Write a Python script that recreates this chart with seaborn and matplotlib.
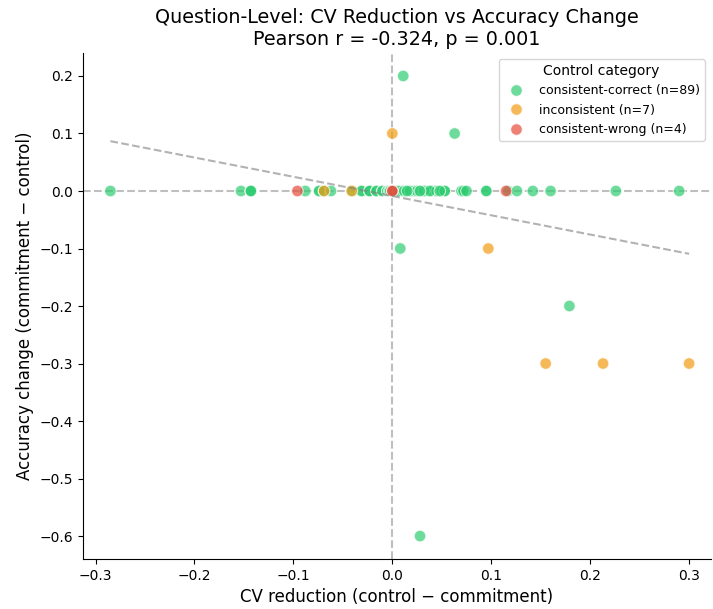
import numpy as np
import pandas as pd
import matplotlib
matplotlib.use("Agg")
import matplotlib.pyplot as plt
import seaborn as sns

# consistent-correct (n=89)
cc_x = [-0.285, -0.153, -0.143, -0.143, -0.088, -0.074, -0.074, -0.069, -0.062, -0.041,
        -0.031, -0.031, -0.023, -0.023, -0.023, -0.016, -0.016, -0.010, -0.010, -0.005,
        -0.005, 0.0, 0.0, 0.0, 0.0, 0.0, 0.0, 0.0, 0.0, 0.0,
        0.0, 0.003, 0.005, 0.008, 0.010, 0.014, 0.014, 0.017, 0.020, 0.020,
        0.022, 0.027, 0.027, 0.030, 0.035, 0.035, 0.040, 0.045, 0.045, 0.045,
        0.050, 0.053, 0.053, 0.070, 0.070, 0.072, 0.075, 0.095, 0.117, 0.126,
        0.142, 0.160, 0.226, 0.290, 0.0, 0.0, 0.0, 0.0, 0.0, 0.0,
        -0.143, 0.095, -0.003, -0.002, 0.002, 0.006, 0.012, 0.018, 0.025, 0.032,
        0.038, 0.048, 0.015, 0.028,
        0.011, 0.063, 0.008, 0.179, 0.028]
cc_y = [0.0] * 84 + [0.2, 0.1, -0.1, -0.2, -0.6]

# inconsistent (n=7)
inc_x = [0.0, 0.097, 0.155, 0.213, 0.300, -0.069, -0.041]
inc_y = [0.1, -0.1, -0.3, -0.3, -0.3, 0.0, 0.0]

# consistent-wrong (n=4)
cw_x = [-0.096, 0.0, 0.0, 0.115]
cw_y = [0.0, 0.0, 0.0, 0.0]

cat_names = ["consistent-correct", "inconsistent", "consistent-wrong"]
colors = ["#2ecc71", "#f39c12", "#e74c3c"]

title = "Question-Level: CV Reduction vs Accuracy Change\nPearson r = -0.324, p = 0.001"

rows = []
for name, xs, ys in zip(cat_names, [cc_x, inc_x, cw_x], [cc_y, inc_y, cw_y]):
    lab = f"{name} (n={len(xs)})"
    for a, b in zip(xs, ys):
        rows.append({"x": a, "y": b, "cat": lab})
df = pd.DataFrame(rows)
labels = [f"{n} (n={len(v)})" for n, v in zip(cat_names, [cc_x, inc_x, cw_x])]

plt.rcParams['font.family'] = ['DejaVu Sans']
fig, ax = plt.subplots(figsize=(7.13, 6.09), dpi=100)
fig.subplots_adjust(left=0.116, right=0.997, top=0.913, bottom=0.082)

ax.axhline(0, color="gray", ls="--", lw=1.5, alpha=0.5, zorder=1)
ax.axvline(0, color="gray", ls="--", lw=1.5, alpha=0.5, zorder=1)

sns.scatterplot(data=df, x="x", y="y", hue="cat", hue_order=labels,
                palette=dict(zip(labels, colors)), s=70, alpha=0.7,
                edgecolor="white", linewidth=0.8, ax=ax, zorder=2)

slope, intercept = np.polyfit(df["x"], df["y"], 1)
xx = np.array([df["x"].min(), df["x"].max()])
ax.plot(xx, slope * xx + intercept, color="gray", ls="--", lw=1.5, alpha=0.6, zorder=3)

ax.set_xlim(-0.313, 0.322)
ax.set_ylim(-0.64, 0.24)
ax.set_xlabel("CV reduction (control \u2212 commitment)", fontsize=12)
ax.set_ylabel("Accuracy change (commitment \u2212 control)", fontsize=12)
ax.set_title(title, fontsize=13.75)
ax.legend(title="Control category", loc="upper right", fontsize=9, title_fontsize=10)
sns.despine(ax=ax)

fig.savefig("out.png", dpi=100)
